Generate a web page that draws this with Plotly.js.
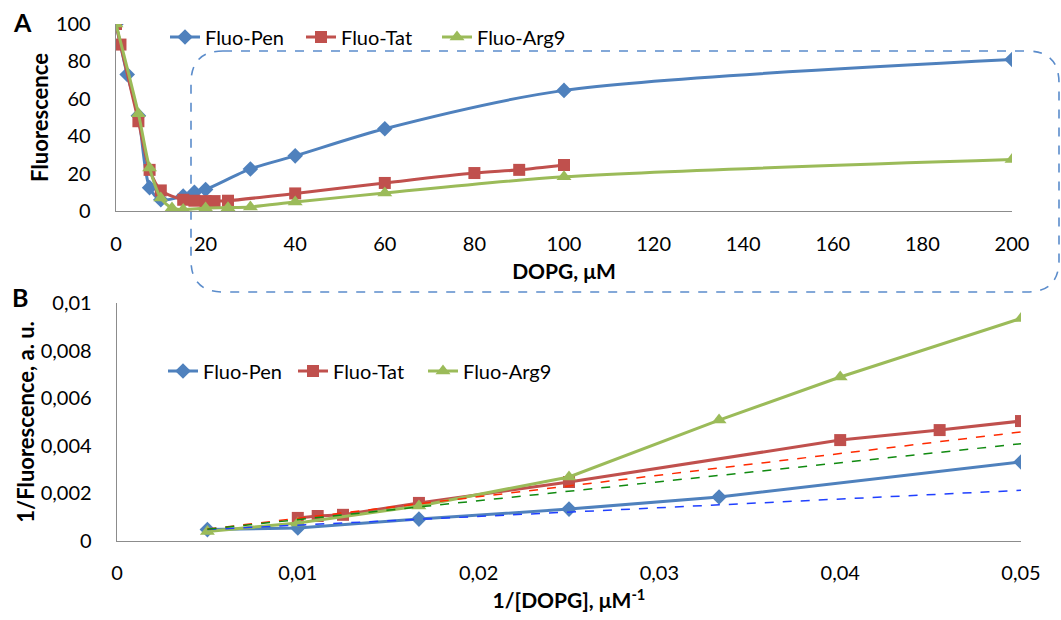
<!DOCTYPE html>
<html>
<head>
<meta charset="utf-8">
<script src="https://cdn.plot.ly/plotly-3.0.1.min.js"></script>
<style>html,body{margin:0;padding:0;background:#fff;}#chart{width:1061px;height:620px;}</style>
</head>
<body>
<div id="chart"></div>
<script>
// ---------- Panel A data: DOPG (µM) vs Fluorescence ----------
const seriesNames = ["Fluo-Pen", "Fluo-Tat", "Fluo-Arg9"];
const penX = [0, 2.5, 5, 7.5, 10, 15, 17.5, 20, 30, 40, 60, 100, 200];
const penY = [100, 73, 51, 12.5, 6, 8, 10, 11.5, 22.5, 29.5, 44, 64.5, 81];
const tatX = [0, 1, 5, 7.5, 10, 15, 17.5, 20, 22, 25, 40, 60, 80, 90, 100];
const tatY = [100, 89, 48, 22, 11, 6, 5.5, 5.3, 5.3, 5.5, 9.4, 15, 20.3, 22, 24.6];
const argX = [0, 5, 7.5, 10, 12.5, 15, 20, 25, 30, 40, 60, 100, 200];
const argY = [100, 52, 23, 7, 1.6, 0.8, 1.6, 1.8, 2.2, 4.8, 9.6, 18.3, 27.5];

// ---------- Panel B data: 1/[DOPG] vs 1/Fluorescence ----------
const penBx = [0.005, 0.01, 0.0167, 0.025, 0.0333, 0.05];
const penBy = [0.00048, 0.00055, 0.00092, 0.00134, 0.00185, 0.00332];
const tatBx = [0.01, 0.0111, 0.0125, 0.0167, 0.025, 0.04, 0.0455, 0.05];
const tatBy = [0.00097, 0.00105, 0.0011, 0.0016, 0.00248, 0.00424, 0.00466, 0.00504];
const argBx = [0.005, 0.01, 0.0167, 0.025, 0.0333, 0.04, 0.05];
const argBy = [0.0004, 0.00076, 0.00147, 0.00269, 0.00508, 0.00689, 0.00935];

// linear trend lines (Pen, Tat, Arg9)
const fitSlope = [0.0366, 0.0907, 0.0797];
const fitIntercept = [0.0003, 0.000046, 0.0001];
const fitRange = [0.005, 0.0505];

// ---------- styling ----------
const W = 1061, H = 620;
const colors = ["#4F81BD", "#C0504D", "#9BBB59"];
const fitColors = ["#1F3FFF", "#FF2A00", "#108A10"];
const symbols = ["diamond", "square", "triangle-up"];
const msizes = [12, 12, 13];
const FONT = "Lato, 'Liberation Sans', sans-serif";

const px = v => v / W;
const py = v => 1 - v / H;

const aData = [[penX, penY], [tatX, tatY], [argX, argY]];
const bData = [[penBx, penBy], [tatBx, tatBy], [argBx, argBy]];

const traces = [];
aData.forEach((d, i) => {
  traces.push({
    x: d[0], y: d[1], type: "scatter", mode: "lines+markers",
    name: seriesNames[i], xaxis: "x", yaxis: "y", legend: "legend",
    line: {color: colors[i], width: 3, shape: "spline", smoothing: 0.8},
    marker: {color: colors[i], symbol: symbols[i], size: msizes[i]}
  });
});
bData.forEach((d, i) => {
  traces.push({
    x: d[0], y: d[1], type: "scatter", mode: "lines+markers",
    name: seriesNames[i], xaxis: "x2", yaxis: "y2", legend: "legend2",
    line: {color: colors[i], width: 3},
    marker: {color: colors[i], symbol: symbols[i], size: msizes[i]}
  });
});
fitSlope.forEach((m, i) => {
  traces.push({
    x: fitRange, y: fitRange.map(x => m * x + fitIntercept[i]),
    type: "scatter", mode: "lines", showlegend: false, hoverinfo: "skip",
    xaxis: "x2", yaxis: "y2",
    line: {color: fitColors[i], width: 1.5, dash: "dash"}
  });
});

// rounded dashed highlight box (pixel geometry)
const bx = {l: 191, t: 51, r: 1059, b: 292, rad: 32};
const P = (x, y) => px(x) + "," + py(y);
const boxPath = "M " + P(bx.l + bx.rad, bx.t) +
  " L " + P(bx.r - bx.rad, bx.t) +
  " Q " + P(bx.r, bx.t) + " " + P(bx.r, bx.t + bx.rad) +
  " L " + P(bx.r, bx.b - bx.rad) +
  " Q " + P(bx.r, bx.b) + " " + P(bx.r - bx.rad, bx.b) +
  " L " + P(bx.l + bx.rad, bx.b) +
  " Q " + P(bx.l, bx.b) + " " + P(bx.l, bx.b - bx.rad) +
  " L " + P(bx.l, bx.t + bx.rad) +
  " Q " + P(bx.l, bx.t) + " " + P(bx.l + bx.rad, bx.t) + " Z";

const tickFont = {family: FONT, size: 20, color: "#000"};
const titleFont = {family: FONT, size: 21, color: "#000", weight: "bold"};
const yTitleFont = {family: FONT, size: 22, color: "#000", weight: "bold"};
const axisCommon = {
  showgrid: false, zeroline: false, showline: true, linecolor: "#8C8C8C", linewidth: 1.3,
  ticks: "", tickfont: tickFont, automargin: false, fixedrange: true
};

const layout = {
  width: W, height: H,
  margin: {l: 0, r: 0, t: 0, b: 0},
  paper_bgcolor: "#fff", plot_bgcolor: "rgba(0,0,0,0)",
  separators: ", ",
  font: {family: FONT, color: "#000"},
  showlegend: true,
  xaxis: Object.assign({}, axisCommon, {
    domain: [px(116), px(1012)], range: [0, 200], tickvals: [0,20,40,60,80,100,120,140,160,180,200],
    anchor: "y", ticklabelstandoff: 15,
    title: {text: "DOPG, μM", font: titleFont, standoff: 10}
  }),
  yaxis: Object.assign({}, axisCommon, {
    domain: [py(211), py(24)], range: [0, 100], tickvals: [0,20,40,60,80,100],
    anchor: "x", ticklabelstandoff: 20,
    title: {text: "Fluorescence", font: yTitleFont, standoff: 1}
  }),
  xaxis2: Object.assign({}, axisCommon, {
    domain: [px(117), px(1021)], range: [0, 0.05], tickvals: [0, 0.01, 0.02, 0.03, 0.04, 0.05],
    anchor: "y2", ticklabelstandoff: 14,
    title: {text: "1/[DOPG], μM<sup>-1</sup>", font: titleFont, standoff: 10}
  }),
  yaxis2: Object.assign({}, axisCommon, {
    domain: [py(541), py(303)], range: [0, 0.01], tickvals: [0, 0.002, 0.004, 0.006, 0.008, 0.01],
    anchor: "x2", ticklabelstandoff: 20,
    title: {text: "1/Fluorescence, a. u.", font: yTitleFont, standoff: 0}
  }),
  legend: {
    orientation: "h", x: px(165), y: py(37), xanchor: "left", yanchor: "middle",
    font: {family: FONT, size: 20, color: "#000"}, bgcolor: "rgba(0,0,0,0)",
    entrywidth: 91, entrywidthmode: "pixels", borderwidth: 0
  },
  legend2: {
    orientation: "h", x: px(163), y: py(371), xanchor: "left", yanchor: "middle",
    font: {family: FONT, size: 20, color: "#000"}, bgcolor: "rgba(0,0,0,0)",
    entrywidth: 85, entrywidthmode: "pixels", borderwidth: 0
  },
  shapes: [{
    type: "path", xref: "paper", yref: "paper", path: boxPath,
    line: {color: "#5B8CCB", width: 1.6, dash: "dash"}, fillcolor: "rgba(0,0,0,0)", layer: "below"
  }],
  annotations: [
    {text: "A", xref: "paper", yref: "paper", x: px(22), y: py(22), xanchor: "center", yanchor: "middle",
     showarrow: false, font: {family: FONT, size: 25, color: "#000", weight: "bold"}},
    {text: "B", xref: "paper", yref: "paper", x: px(20), y: py(297), xanchor: "center", yanchor: "middle",
     showarrow: false, font: {family: FONT, size: 25, color: "#000", weight: "bold"}}
  ]
};

Plotly.newPlot("chart", traces, layout, {displayModeBar: false, staticPlot: true});
</script>
</body>
</html>
